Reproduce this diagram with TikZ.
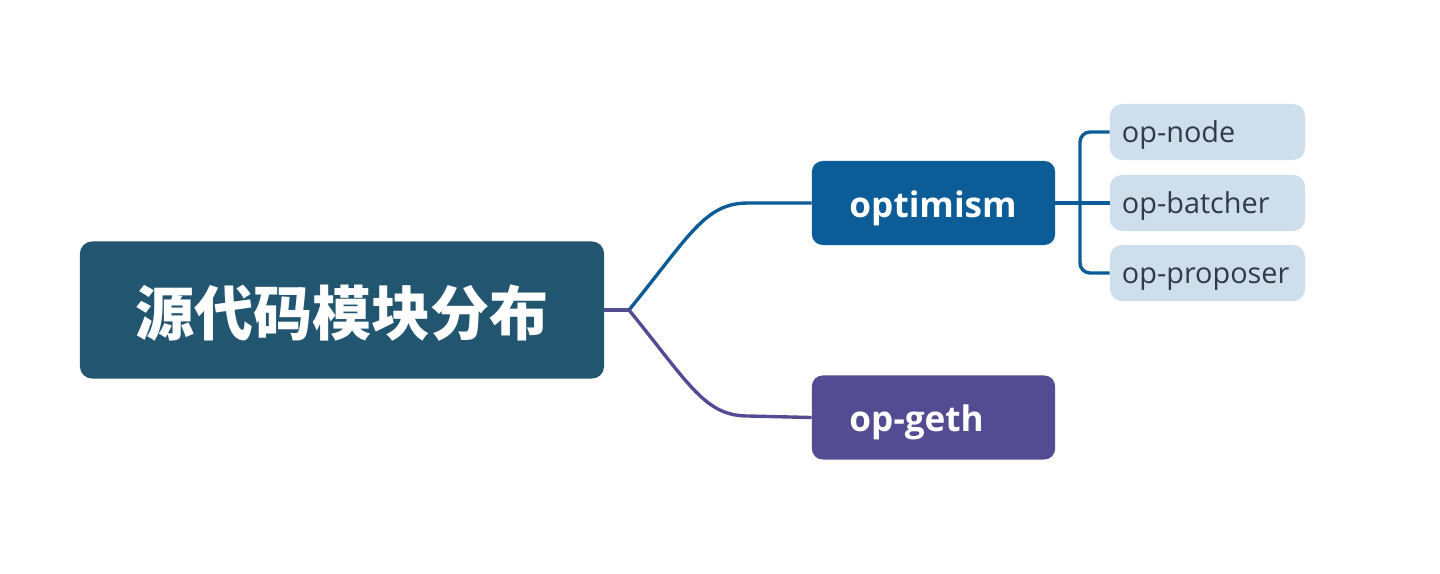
\documentclass[tikz,border=0pt]{standalone}
\usepackage{fontspec}
\setmainfont{Open Sans}
\newfontfamily\cjk{Noto Sans CJK SC}
\definecolor{rootcol}{HTML}{22556F}
\definecolor{optcol}{HTML}{0B5C97}
\definecolor{gethcol}{HTML}{534C93}
\definecolor{leafcol}{HTML}{CFDEEB}
\definecolor{leaftext}{HTML}{2F3A4C}
\tikzset{
  rootbox/.style={fill=rootcol,text=white,rounded corners=0.3cm,minimum width=13.1cm,minimum height=3.425cm,text depth=0pt,font=\cjk\bfseries\fontsize{42}{48}\selectfont},
  mainbox/.style={fill=#1,text=white,rounded corners=0.27cm,text width=4.2cm,inner xsep=0.94cm,align=left,minimum height=2.1cm,text height=20pt,text depth=0pt,font=\bfseries\fontsize{25}{28}\selectfont},
  leafbox/.style={fill=leafcol,text=leaftext,rounded corners=0.3cm,text width=4.275cm,inner xsep=0.3cm,align=left,minimum height=1.4cm,text height=15.6pt,text depth=0pt,font=\fontsize{20.5}{23}\selectfont},
  branch/.style={draw=#1,line width=2.4pt}
}
\begin{document}
\begin{tikzpicture}[x=0.025cm,y=-0.025cm]
                \fill[white] (0,0) rectangle (1440,573);
                \useasboundingbox (0,0) rectangle (1440,573);
                \node[rootbox] (root) at (342,310) {源代码模块分布};
                \node[mainbox=optcol] (optimism) at (933.5,203) {optimism};
                \node[mainbox=gethcol] (opgeth) at (933.5,417.5) {op-geth};
                \node[leafbox] (opnode) at (1207.5,132) {op-node};
                \node[leafbox] (opbatcher) at (1207.5,203) {op-batcher};
                \node[leafbox] (opproposer) at (1207.5,273) {op-proposer};
                \coordinate (fork) at (629,310);
                \coordinate (kneeA) at (748,203);
                \coordinate (kneeB) at (748,416);
                \coordinate (split) at (1080,203);
                \draw[branch=optcol] (fork) .. controls (690,235) and (705,203) .. (kneeA) -- (optimism.west);
                \draw[branch=gethcol] (fork) .. controls (690,385) and (705,416) .. (kneeB) -- (opgeth.west);
                \draw[branch=gethcol] (root.east) -- (fork);
                \draw[branch=optcol] (optimism.east) -- (opbatcher.west);
                \draw[branch=optcol,rounded corners=0.25cm] (opnode.west) -| (split) |- (opproposer.west);
            \end{tikzpicture}
\end{document}
